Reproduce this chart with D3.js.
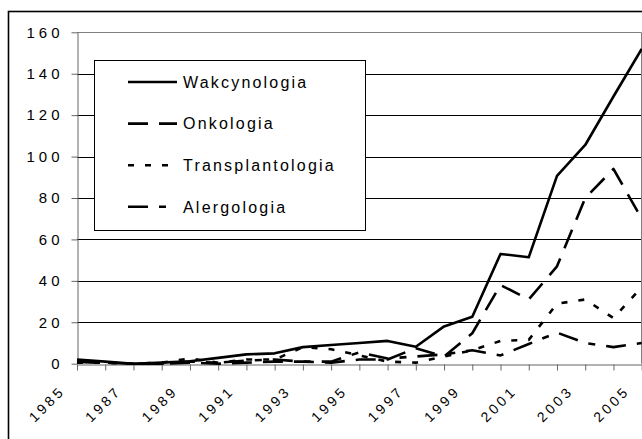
<!DOCTYPE html>
<html>
<head>
<meta charset="utf-8">
<script src="https://cdn.jsdelivr.net/npm/d3@7"></script>
<style>
  body { margin: 0; background: #fff; }
  svg { display: block; font-family: "Liberation Sans", Arial, sans-serif; }
</style>
</head>
<body>
<svg class="chartSVG" width="642" height="439"></svg>
<script>
// categories
const years = d3.range(1985, 2006);
const yearLabels = years.filter(d => (d - 1985) % 2 === 0);
const yTicks = [0, 20, 40, 60, 80, 100, 120, 140, 160];

// series values
const wakcynologia = [2, 1, 0, 0.5, 1.2, 2.8, 4.5, 5, 8, 9, 10, 11, 8.2, 18, 22.7, 53, 51.4, 90.7, 105.6, 129, 152];
const onkologia = [1, 0.5, 0, 0, 0.5, 0, 0.5, 1, 1, 0.5, 2, 2, 7.5, 3.5, 14.7, 38, 31, 47, 80, 94, 70];
const transplantologia = [0.5, 0.5, 0, 0.5, 2.5, 0.5, 2, 2, 8, 7, 4, 1, 0.5, 3.5, 6.5, 11, 11.5, 29, 31, 22, 37];
const alergologia = [1, 0.5, 0, 0, 1, 0.5, 1.5, 2, 1, 1, 5.5, 2.5, 3.5, 4.5, 6.5, 4, 9.5, 15, 10, 8, 10];

const seriesNames = ['Wakcynologia', 'Onkologia', 'Transplantologia', 'Alergologia'];

const series = [
  {name: seriesNames[0], values: wakcynologia, dash: null},
  {name: seriesNames[1], values: onkologia, dash: '20,11'},
  {name: seriesNames[2], values: transplantologia, dash: '6,11'},
  {name: seriesNames[3], values: alergologia, dash: '20,11,7,11'}
];

const svg = d3.select('svg.chartSVG');

const x = d3.scalePoint()
    .domain(years)
    .range([77, 641.7]);

const y = d3.scaleLinear()
    .domain([0, 160])
    .range([363.7, 32.3]);

// outer chart border
svg.append('rect')
    .attr('x', 8.5)
    .attr('y', 11.5)
    .attr('width', 700)
    .attr('height', 500)
    .style('fill', 'none')
    .style('stroke', '#000')
    .style('stroke-width', 1.6);

// gridlines
svg.append('g')
    .attr('class', 'grid')
    .selectAll('line')
    .data(yTicks.filter(d => d > 0 && d < 160))
    .enter()
    .append('line')
    .attr('x1', 77)
    .attr('x2', 641.7)
    .attr('y1', d => Math.round(y(d)) + 0.5)
    .attr('y2', d => Math.round(y(d)) + 0.5)
    .style('stroke', '#000')
    .style('stroke-width', 1);

// plot area border, top and right
svg.append('path')
    .attr('d', `M77,${Math.round(y(160)) + 0.5}H641.5V${y(0)}`)
    .style('fill', 'none')
    .style('stroke', '#808080')
    .style('stroke-width', 1);

// y axis
const yAxis = svg.append('g')
    .attr('class', 'yAxis')
    .attr('transform', 'translate(77.5,0)')
    .call(d3.axisLeft(y).tickValues(yTicks).tickSize(6).tickSizeOuter(0).tickFormat(d3.format('d')));

yAxis.select('.domain').style('stroke', '#666');
yAxis.selectAll('.tick line').style('stroke', '#666');
yAxis.selectAll('.tick text')
    .attr('x', -14)
    .style('font-family', '"Liberation Sans", Arial, sans-serif')
    .style('font-size', '15px')
    .style('letter-spacing', '4px')
    .style('fill', '#000');

// x axis
const xAxis = svg.append('g')
    .attr('class', 'xAxis')
    .attr('transform', `translate(0,${Math.round(y(0)) + 0.5})`)
    .call(d3.axisBottom(x).tickSize(6).tickSizeOuter(0).tickFormat(''));

xAxis.select('.domain').style('stroke', '#666');
xAxis.selectAll('.tick line').style('stroke', '#666');

svg.append('g')
    .attr('class', 'xLabels')
    .selectAll('text')
    .data(yearLabels)
    .enter()
    .append('text')
    .attr('transform', d => `translate(${x(d) - 11},${y(0) + 28}) rotate(-45)`)
    .style('text-anchor', 'end')
    .style('font-size', '14px')
    .style('letter-spacing', '3.3px')
    .style('fill', '#000')
    .text(d => d);

// lines
const line = d3.line()
    .x((d, i) => x(years[i]))
    .y(d => y(d));

svg.append('g')
    .attr('class', 'lines')
    .selectAll('path')
    .data(series)
    .enter()
    .append('path')
    .attr('d', d => line(d.values))
    .style('fill', 'none')
    .style('stroke', '#000')
    .style('stroke-width', 2.6)
    .style('stroke-linejoin', 'round')
    .style('stroke-dasharray', d => d.dash);

// legend
const legend = svg.append('g').attr('class', 'legend');

legend.append('rect')
    .attr('x', 94.5)
    .attr('y', 60.5)
    .attr('width', 271)
    .attr('height', 170)
    .style('fill', '#fff')
    .style('stroke', '#000')
    .style('stroke-width', 1);

const legRows = legend.selectAll('g.legRow')
    .data(series)
    .enter()
    .append('g')
    .attr('class', 'legRow')
    .attr('transform', (d, i) => `translate(0,${82 + i * 41.6})`);

legRows.append('line')
    .attr('x1', 128)
    .attr('x2', 177)
    .style('stroke', '#000')
    .style('stroke-width', 2.6)
    .style('stroke-dasharray', d => d.dash);

legRows.append('text')
    .attr('x', 183)
    .attr('dy', '0.36em')
    .style('font-size', '16px')
    .style('letter-spacing', '2.2px')
    .style('fill', '#000')
    .text(d => d.name);
</script>
</body>
</html>
